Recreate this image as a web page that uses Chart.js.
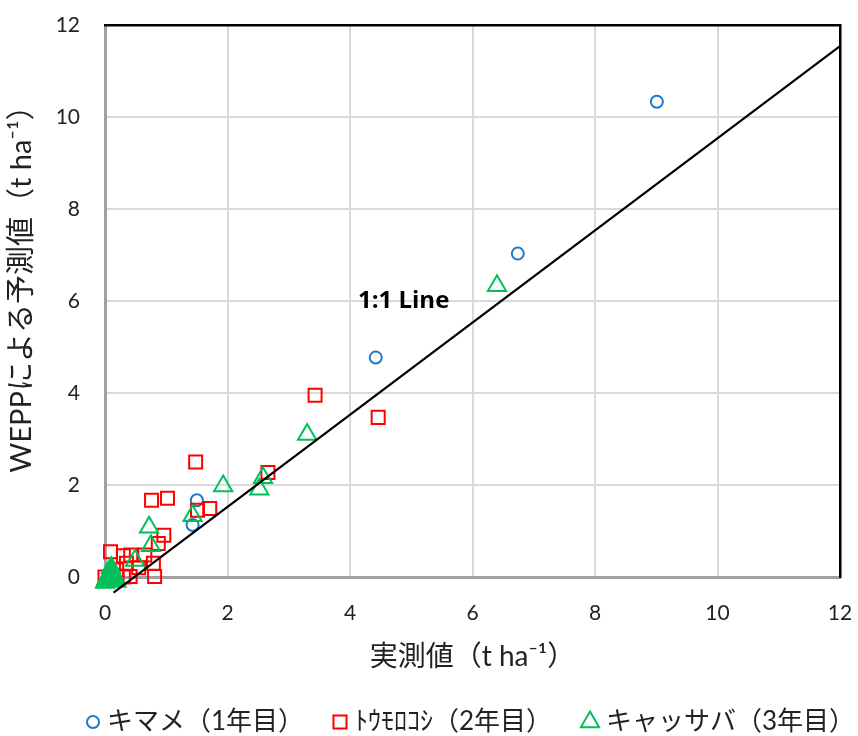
<!DOCTYPE html>
<html>
<head>
<meta charset="utf-8">
<script src="https://cdn.jsdelivr.net/npm/chart.js@4/dist/chart.umd.min.js"></script>
<style>
  html, body { margin: 0; padding: 0; background: #fff; overflow: hidden; }
  #wrap { width: 858px; height: 736px; }
</style>
</head>
<body>
<div id="wrap"><canvas id="chart" width="858" height="736"></canvas></div>
<script>
// Measured soil loss (x) vs. WEPP prediction (y), t ha-1
const kimameX = [9.01, 6.74, 4.42, 1.50, 1.43];
const kimameY = [10.33, 7.03, 4.77, 1.67, 1.13];

const morokoshiX = [3.43, 4.46, 1.48, 2.66, 1.71, 1.51, 0.76, 1.02, 0.96, 0.87, 0.81, 0.09, 0.30, 0.42, 0.65, 0.79, 0.35, 0.41, 0.00, 0.30, 0.19, 0.55];
const morokoshiY = [3.95, 3.47, 2.50, 2.27, 1.49, 1.45, 1.67, 1.71, 0.91, 0.73, 0.01, 0.55, 0.46, 0.48, 0.48, 0.30, 0.30, 0.01, 0.00, 0.00, 0.15, 0.20];

const cassavaX = [6.40, 3.30, 1.93, 2.58, 2.52, 1.43, 0.72, 0.75, 0.49, 0.05, 0.10, 0.02, 0.12, 0.08, 0.15, 0.00, 0.19, 0.10];
const cassavaY = [6.33, 3.10, 1.98, 2.16, 1.91, 1.33, 1.08, 0.68, 0.36, 0.00, 0.05, -0.05, -0.03, 0.10, 0.03, -0.12, -0.10, 0.20];

// Reference line end points and its label
const refLineX = [0.14, 12];
const refLineY = [-0.34, 11.54];
const refLineLabel = '1:1 Line';
const refLabelX = 4.13;
const refLabelY = 6.0;

const seriesNames = ['キマメ（1年目）', 'ﾄｳﾓﾛｺｼ（2年目）', 'キャッサバ（3年目）'];
const xTitle = '実測値（t ha⁻¹）';
const yTitle = 'WEPPによる予測値（t ha⁻¹）';
const axisMin = 0, axisMax = 12, axisStep = 2;

const BLUE = '#1f78c8';
const RED = '#ff0000';
const GREEN = '#00c05a';
const FONT = 'Lato, "Noto Sans CJK JP", sans-serif';

// series key below the chart: marker centre and text start for each entry
const keyY = 722;
const keySlots = [
  { mark: 93, text: 107 },
  { mark: 340, text: 355 },
  { mark: 590, text: 606 }
];
// vertical axis title centre
const yTitlePos = { x: 22, y: 282 };

const pts = (xs, ys) => xs.map((x, i) => ({ x, y: ys[i] }));

const refLabelPlugin = {
  id: 'refLabel',
  afterDatasetsDraw(chart) {
    const { ctx, scales } = chart;
    ctx.save();
    ctx.font = 'bold 24px "Open Sans", Lato, sans-serif';
    ctx.fillStyle = '#000';
    ctx.textAlign = 'left';
    ctx.textBaseline = 'middle';
    ctx.fillText(refLineLabel, scales.x.getPixelForValue(refLabelX), scales.y.getPixelForValue(refLabelY));
    ctx.restore();
  }
};

const yTitlePlugin = {
  id: 'yTitle',
  afterDraw(chart) {
    const { ctx } = chart;
    ctx.save();
    ctx.translate(yTitlePos.x, yTitlePos.y);
    ctx.rotate(-Math.PI / 2);
    ctx.font = '29px ' + FONT;
    ctx.fillStyle = '#222';
    ctx.textAlign = 'center';
    ctx.textBaseline = 'middle';
    ctx.fillText(yTitle, 0, 0);
    ctx.restore();
  }
};

const seriesKeyPlugin = {
  id: 'seriesKey',
  afterDraw(chart) {
    const { ctx } = chart;
    keySlots.forEach((slot, i) => {
      const ds = chart.data.datasets[i];
      ctx.save();
      ctx.strokeStyle = ds.borderColor;
      ctx.fillStyle = 'rgba(0,0,0,0)';
      ctx.lineWidth = 2;
      Chart.helpers.drawPoint(ctx, { pointStyle: ds.pointStyle, radius: ds.pointRadius, borderWidth: 2, rotation: 0 }, slot.mark, keyY);
      ctx.restore();
      ctx.save();
      ctx.font = '26px ' + FONT;
      ctx.fillStyle = '#222';
      ctx.textAlign = 'left';
      ctx.textBaseline = 'middle';
      ctx.fillText(ds.label, slot.text, keyY);
      ctx.restore();
    });
  }
};

// tick marks are invisible; their length only sets the gap to the tick labels
const gridOpts = { color: '#d9d9d9', lineWidth: 2, drawTicks: true, tickColor: 'rgba(0,0,0,0)' };

new Chart(document.getElementById('chart'), {
  type: 'scatter',
  data: {
    datasets: [
      {
        label: seriesNames[0],
        data: pts(kimameX, kimameY),
        pointStyle: 'circle',
        pointRadius: 6,
        borderColor: BLUE,
        backgroundColor: 'rgba(0,0,0,0)',
        borderWidth: 2,
        pointBorderWidth: 2,
        order: 3,
        clip: false
      },
      {
        label: seriesNames[1],
        data: pts(morokoshiX, morokoshiY),
        pointStyle: 'rect',
        pointRadius: 9.2,
        borderColor: RED,
        backgroundColor: 'rgba(0,0,0,0)',
        borderWidth: 2,
        pointBorderWidth: 2,
        order: 2,
        clip: false
      },
      {
        label: seriesNames[2],
        data: pts(cassavaX, cassavaY),
        pointStyle: 'triangle',
        pointRadius: 10.5,
        borderColor: GREEN,
        backgroundColor: 'rgba(0,0,0,0)',
        // markers piled up at the origin read as one solid triangle
        pointBackgroundColor: (c) => (c.raw && c.raw.x < 0.25 && c.raw.y < 0.25) ? GREEN : 'rgba(0,0,0,0)',
        borderWidth: 2,
        pointBorderWidth: 2,
        order: 1,
        clip: false
      },
      {
        label: refLineLabel,
        data: pts(refLineX, refLineY),
        showLine: true,
        borderColor: '#000',
        borderWidth: 2.2,
        pointRadius: 0,
        order: 0,
        clip: false
      }
    ]
  },
  options: {
    responsive: false,
    animation: false,
    events: [],
    layout: { padding: 0 },
    plugins: {
      tooltip: { enabled: false },
      legend: { display: false }
    },
    scales: {
      x: {
        type: 'linear',
        position: 'bottom',
        min: axisMin, max: axisMax,
        ticks: { stepSize: axisStep, padding: 0, color: '#222', font: { family: FONT, size: 21 } },
        grid: { ...gridOpts, tickLength: 24 },
        border: { color: '#a0a0a0', width: 3 },
        title: { display: true, text: xTitle, color: '#222', font: { family: FONT, size: 28 }, padding: { top: 0, bottom: 62 } },
        afterFit: (s) => { s.height = 159; }
      },
      y: {
        type: 'linear',
        position: 'left',
        min: axisMin, max: axisMax,
        ticks: { stepSize: axisStep, padding: 0, color: '#222', font: { family: FONT, size: 21 } },
        grid: { ...gridOpts, tickLength: 25 },
        border: { color: '#a0a0a0', width: 3 },
        title: { display: false },
        afterFit: (s) => { s.width = 105; }
      },
      xTop: {
        type: 'linear',
        position: 'top',
        min: axisMin, max: axisMax,
        ticks: { display: false },
        grid: { display: false, drawTicks: false },
        border: { color: '#000', width: 2.5 },
        afterFit: (s) => { s.height = 25; }
      },
      yRight: {
        type: 'linear',
        position: 'right',
        min: axisMin, max: axisMax,
        ticks: { display: false },
        grid: { display: false, drawTicks: false },
        border: { color: '#000', width: 2.5 },
        afterFit: (s) => { s.width = 18; }
      }
    }
  },
  plugins: [refLabelPlugin, yTitlePlugin, seriesKeyPlugin]
});
</script>
</body>
</html>
